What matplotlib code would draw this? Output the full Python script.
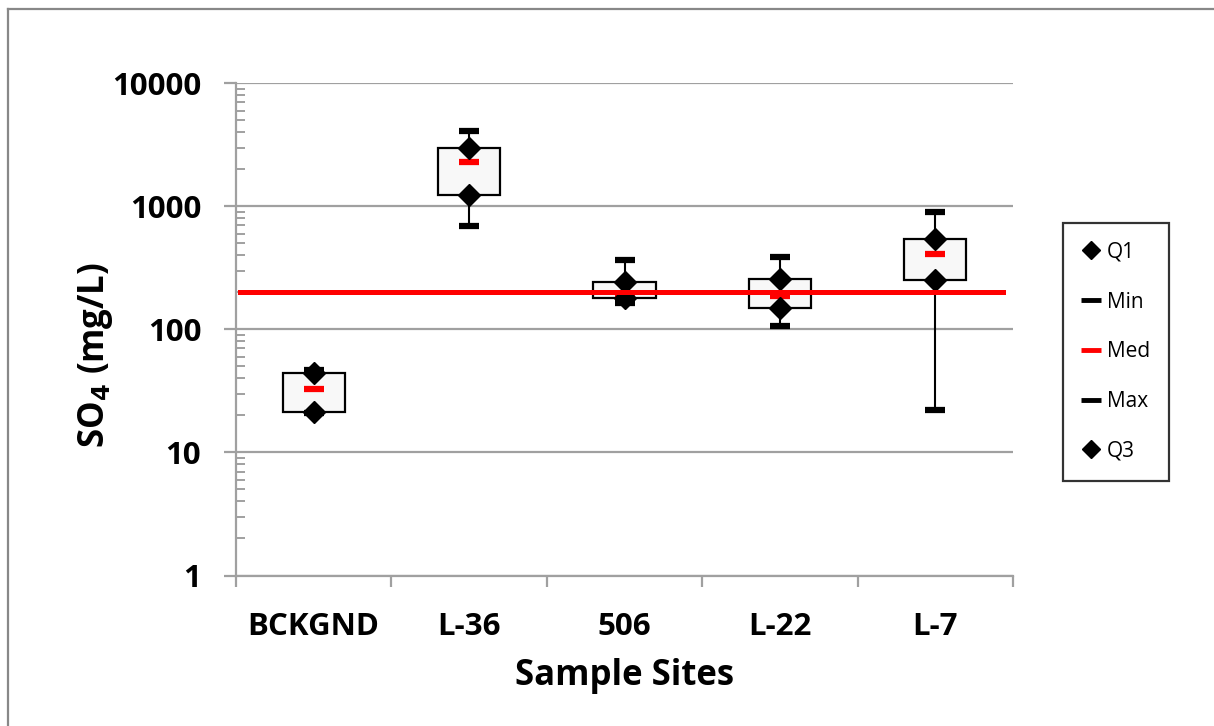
import matplotlib
matplotlib.use("Agg")
import matplotlib.pyplot as plt
from matplotlib.lines import Line2D
from matplotlib.ticker import LogLocator, NullFormatter, FixedLocator

plt.rcParams["font.family"] = ["Open Sans", "DejaVu Sans"]

# data (mg/L)
sites = ["BCKGND", "L-36", "506", "L-22", "L-7"]
q1 = [21.5, 1230, 180, 150, 252]
q3 = [44, 2960, 242, 256, 541]
med = [33, 2290, 195, 187, 409]
mins = [21, 686, 164, 107, 22]
maxs = [47, 4120, 365, 389, 901]
ref_level = 200

fig = plt.figure(figsize=(12.14, 7.26), dpi=100)
ax = fig.add_axes([236 / 1214, 1 - 575.5 / 726, 777 / 1214, (575.5 - 83.3) / 726])

x = list(range(len(sites)))
gray = "#a0a0a0"

# whiskers
ax.vlines(x, mins, maxs, color="black", lw=1.5, zorder=2)
# boxes Q1..Q3
ax.bar(x, [b - a for a, b in zip(q1, q3)], bottom=q1, width=0.4,
       color="#f8f8f8", edgecolor="black", linewidth=1.6, zorder=3)
# caps and median
ax.plot(x, mins, ls="none", marker="_", ms=14.5, mew=4.5, color="black", zorder=4)
ax.plot(x, maxs, ls="none", marker="_", ms=14.5, mew=4.5, color="black", zorder=4)
ax.plot(x, med, ls="none", marker="_", ms=14.5, mew=4.5, color="red", zorder=4)
ax.plot(x, q1, ls="none", marker="D", ms=11, color="black", zorder=5)
ax.plot(x, q3, ls="none", marker="D", ms=11, color="black", zorder=5)

# reference line
ax.axhline(ref_level, xmin=4 / 777, xmax=767 / 777, color="red", lw=3.6, zorder=6)

ax.set_yscale("log")
ax.set_ylim(1, 10000)
ax.set_xlim(-0.5, len(sites) - 0.5)
ax.yaxis.set_major_locator(FixedLocator([1, 10, 100, 1000, 10000]))
ax.yaxis.set_minor_locator(LogLocator(base=10, subs=range(2, 10)))
ax.yaxis.set_minor_formatter(NullFormatter())
ax.set_yticklabels(["1", "10", "100", "1000", "10000"])
ax.yaxis.grid(True, which="major", color=gray, lw=1.6, zorder=0)
ax.set_axisbelow(True)

ax.set_xticks([i - 0.5 for i in range(len(sites) + 1)])
ax.set_xticklabels([])
ax.set_xticks(x, minor=True)
ax.set_xticklabels(sites, minor=True)
ax.tick_params(axis="x", which="major", direction="out", length=8, width=1.6, color=gray)
ax.tick_params(axis="x", which="minor", length=0, pad=26, labelsize=22.5)
ax.tick_params(axis="y", which="major", direction="out", length=9, width=1.6, color=gray,
               pad=16, labelsize=22.5)
ax.tick_params(axis="y", which="minor", direction="in", length=6.5, width=1.4, color=gray)
for lab in ax.get_xticklabels(minor=True) + ax.get_yticklabels():
    lab.set_fontweight("bold")

for s in ["top", "right"]:
    ax.spines[s].set_visible(False)
for s in ["left", "bottom"]:
    ax.spines[s].set_color(gray)
    ax.spines[s].set_linewidth(1.6)

ax.set_xlabel("Sample Sites", fontsize=25, fontweight="bold", labelpad=12)
ax.set_ylabel("SO$_\\mathbf{4}$ (mg/L)", fontsize=25, fontweight="bold")
ax.yaxis.set_label_coords((115 - 236) / 777, (575.5 - 355) / 492.2)

handles = [
    Line2D([], [], ls="none", marker="D", ms=9, color="black"),
    Line2D([], [], ls="none", marker="_", ms=14, mew=3.5, color="black"),
    Line2D([], [], ls="none", marker="_", ms=14, mew=3.5, color="red"),
    Line2D([], [], ls="none", marker="_", ms=14, mew=3.5, color="black"),
    Line2D([], [], ls="none", marker="D", ms=9, color="black"),
]
leg = fig.legend(handles, ["Q1", "Min", "Med", "Max", "Q3"],
                 loc="upper left", bbox_to_anchor=(1063 / 1214, 1 - 223 / 726),
                 fontsize=15, frameon=True, fancybox=False, handlelength=0.9,
                 handletextpad=0.3, labelspacing=1.38, borderpad=0.9, borderaxespad=0)
leg.get_frame().set_edgecolor("black")
leg.get_frame().set_linewidth(1.6)

# outer chart frame
fig.add_artist(Line2D([8 / 1214, 8 / 1214], [0, 1 - 9 / 726], color="#888888", lw=1.6))
fig.add_artist(Line2D([8 / 1214, 1], [1 - 9 / 726, 1 - 9 / 726], color="#888888", lw=1.6))

fig.savefig("out.png", dpi=100)
